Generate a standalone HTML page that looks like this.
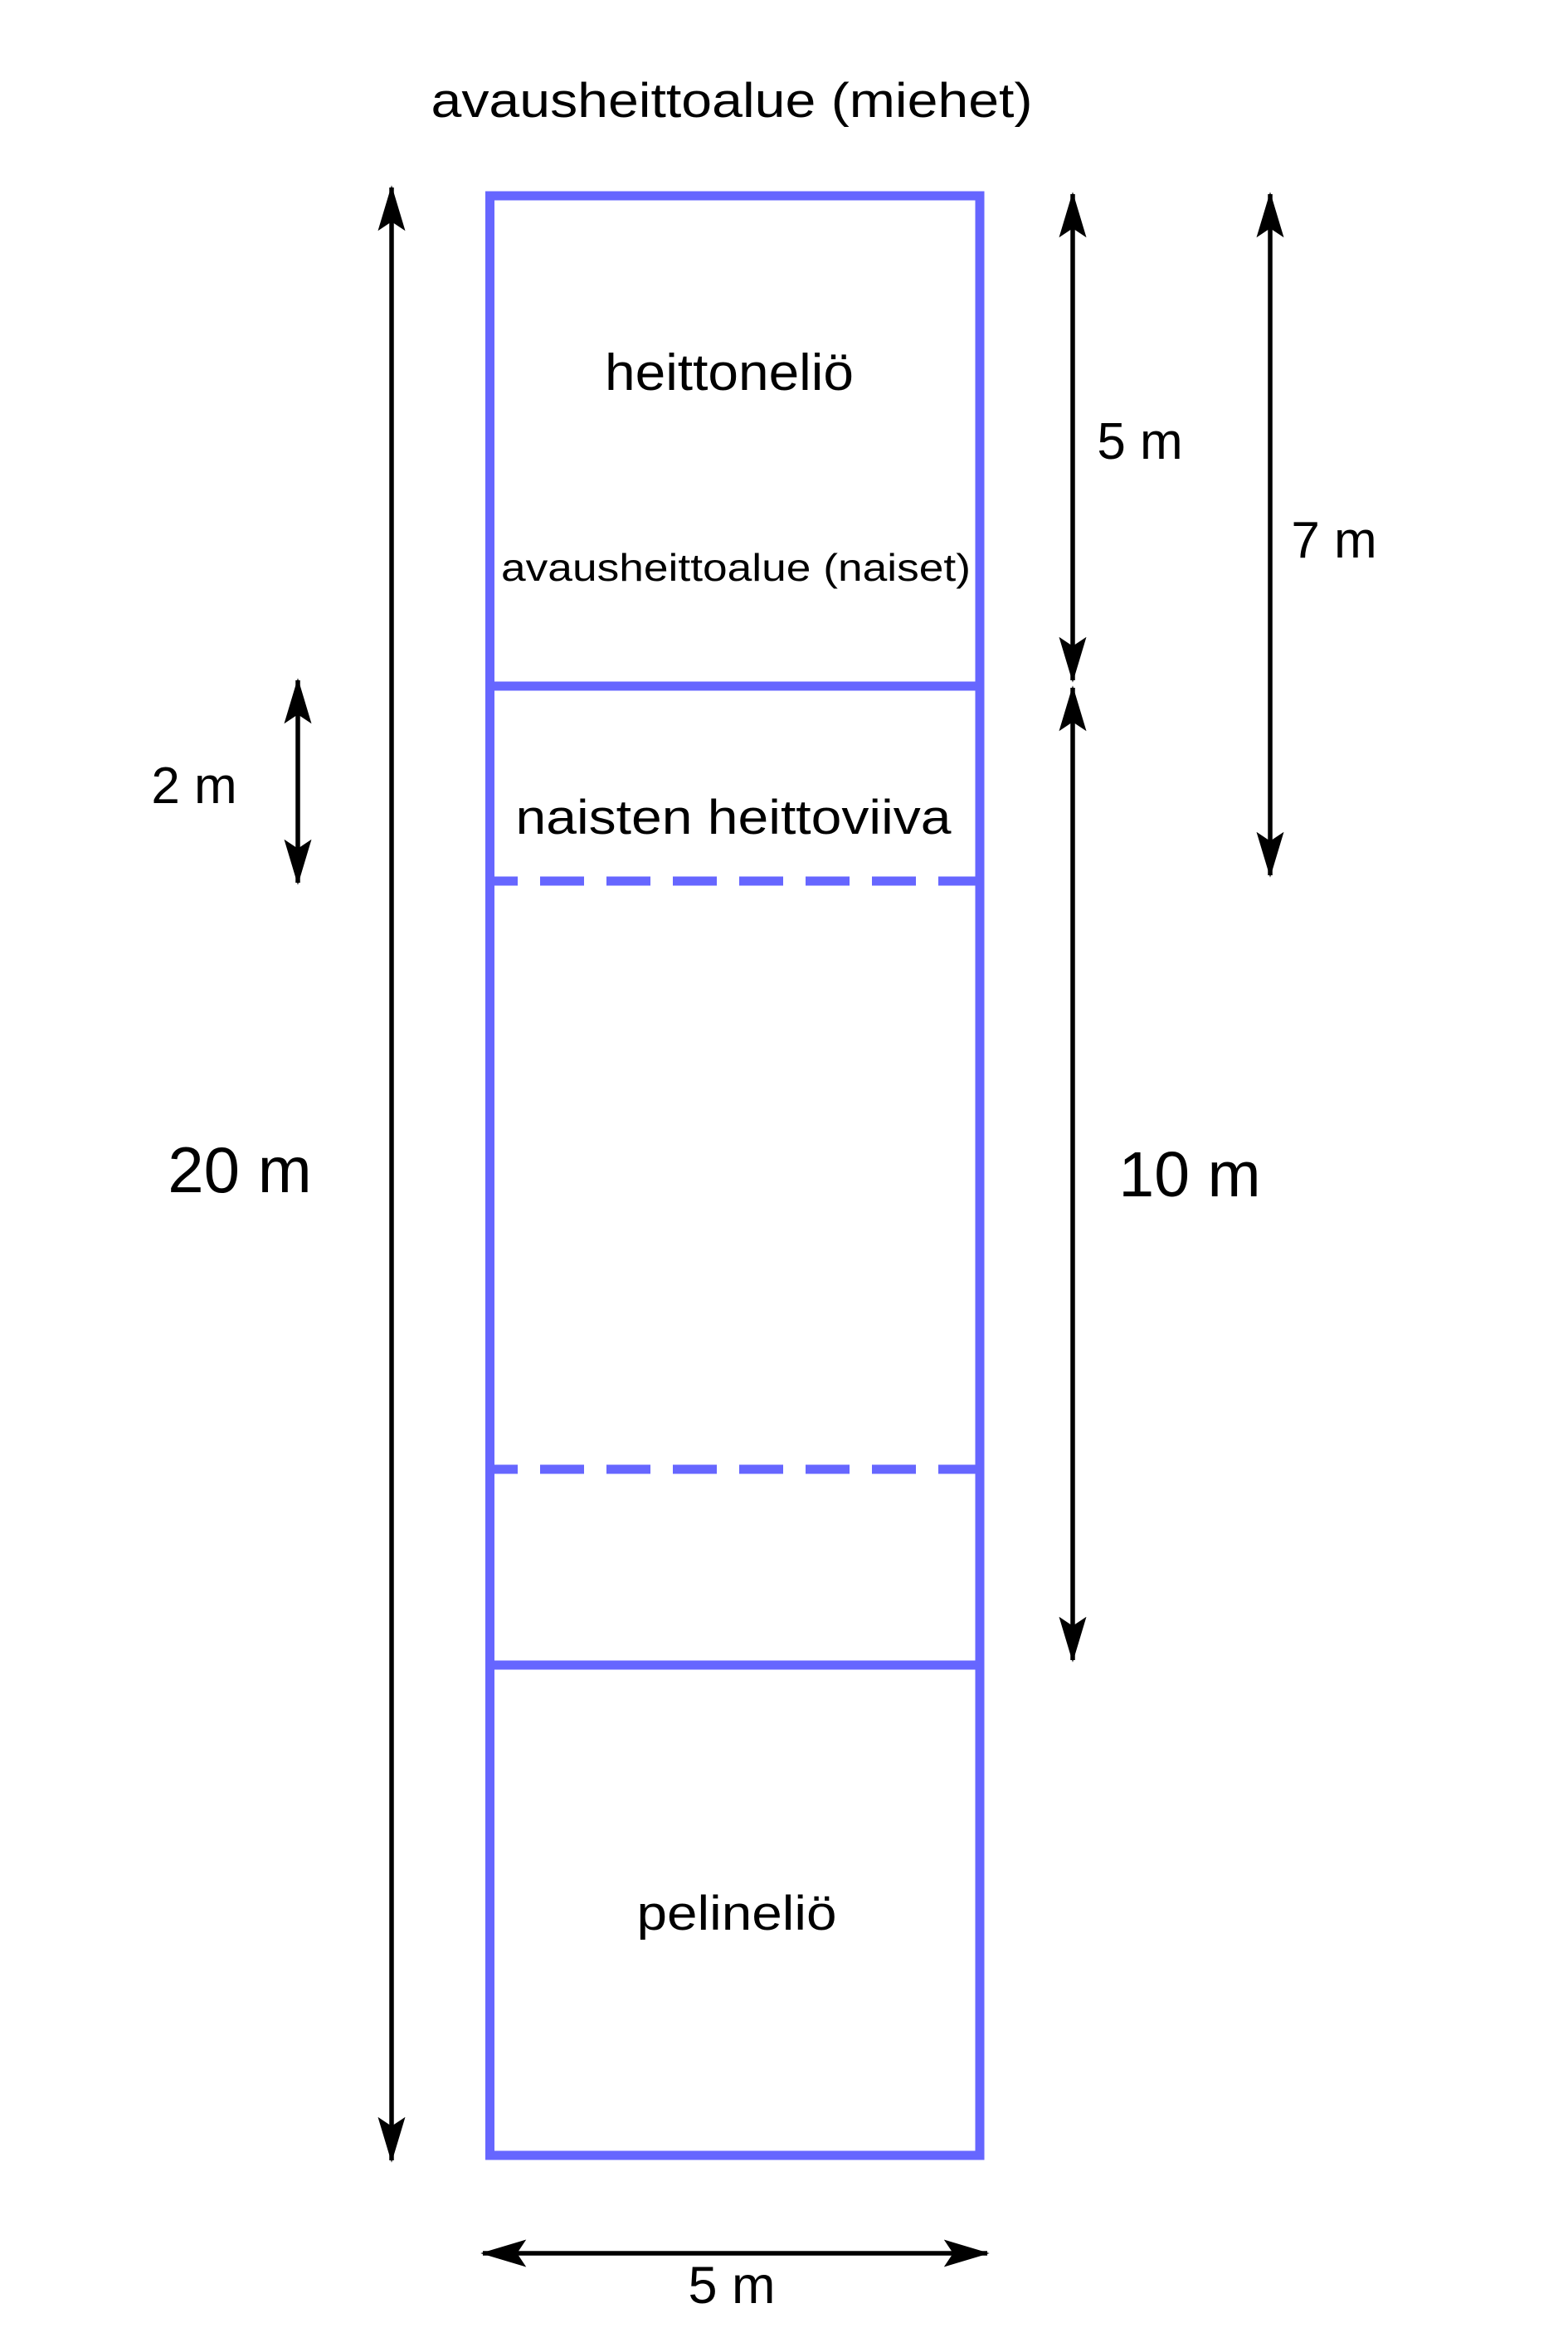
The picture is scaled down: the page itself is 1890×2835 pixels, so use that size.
<!DOCTYPE html>
<html><head><meta charset="utf-8"><style>html,body{margin:0;padding:0;background:#fff}svg{display:block}</style></head>
<body>
<svg width="1890" height="2835" viewBox="0 0 1890 2835" xmlns="http://www.w3.org/2000/svg" font-family="'Liberation Sans', Arial, sans-serif" fill="#000">
<defs>
<marker id="a" viewBox="0 0 20 12" refX="19" refY="6" markerWidth="10" markerHeight="6" orient="auto-start-reverse" markerUnits="strokeWidth">
<path d="M20,6 L0,0 L4,6 L0,12 Z" fill="#000"/>
</marker>
</defs>
<g stroke="#6666ff" stroke-width="11" fill="none">
<rect x="590.5" y="236" width="590.5" height="2362"/>
<line x1="590" y1="827" x2="1181" y2="827"/>
<line x1="590" y1="2007" x2="1181" y2="2007"/>
<line x1="596" y1="1062" x2="1176" y2="1062" stroke-dasharray="53,27" stroke-dashoffset="25"/>
<line x1="596" y1="1771" x2="1176" y2="1771" stroke-dasharray="53,27" stroke-dashoffset="25"/>
</g>
<g stroke="#000" stroke-width="5.5" fill="none">
<line x1="472" y1="226" x2="472" y2="2604" marker-start="url(#a)" marker-end="url(#a)"/>
<line x1="1293" y1="234" x2="1293" y2="820" marker-start="url(#a)" marker-end="url(#a)"/>
<line x1="1293" y1="829" x2="1293" y2="2001" marker-start="url(#a)" marker-end="url(#a)"/>
<line x1="1531" y1="234" x2="1531" y2="1055" marker-start="url(#a)" marker-end="url(#a)"/>
<line x1="359" y1="820" x2="359" y2="1064" marker-start="url(#a)" marker-end="url(#a)"/>
<line x1="582" y1="2716" x2="1190" y2="2716" marker-start="url(#a)" marker-end="url(#a)"/>
</g>
<text x="882" y="141" font-size="58" text-anchor="middle" textLength="725" lengthAdjust="spacingAndGlyphs">avausheittoalue (miehet)</text>
<text x="879" y="470" font-size="62" text-anchor="middle" textLength="300" lengthAdjust="spacingAndGlyphs">heittoneliö</text>
<text x="887" y="700" font-size="46" text-anchor="middle" textLength="566" lengthAdjust="spacingAndGlyphs">avausheittoalue (naiset)</text>
<text x="884" y="1005" font-size="58" text-anchor="middle" textLength="525" lengthAdjust="spacingAndGlyphs">naisten heittoviiva</text>
<text x="888" y="2326" font-size="58" text-anchor="middle" textLength="241" lengthAdjust="spacingAndGlyphs">pelineliö</text>
<text x="882" y="2776" font-size="63" text-anchor="middle">5 m</text>
<text x="1374" y="553" font-size="62" text-anchor="middle">5 m</text>
<text x="1608" y="672" font-size="62" text-anchor="middle">7 m</text>
<text x="234" y="968" font-size="62" text-anchor="middle">2 m</text>
<text x="289" y="1437" font-size="78" text-anchor="middle">20 m</text>
<text x="1434" y="1442" font-size="77" text-anchor="middle">10 m</text>
</svg>
</body></html>
